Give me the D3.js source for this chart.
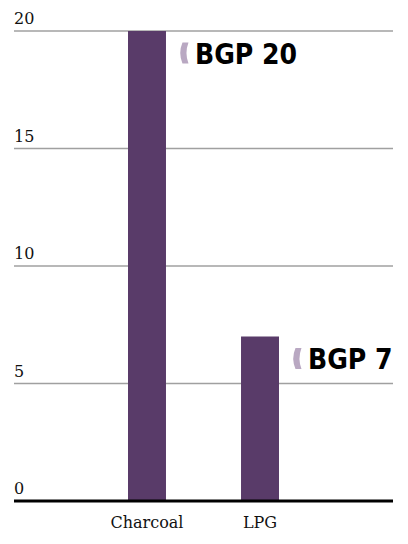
<!DOCTYPE html>
<html>
<head>
<meta charset="utf-8">
<script src="https://cdn.jsdelivr.net/npm/d3@7"></script>
<style>
  html, body { margin: 0; padding: 0; background: #fff; }
</style>
</head>
<body>
<div id="chart"></div>
<script>
// Fuel prices, BGP
const categories = ["Charcoal", "LPG"];
const values = [20, 7];
const priceLabels = ["BGP 20", "BGP 7"];
const yTicks = [0, 5, 10, 15, 20];

(function () {
  const width = 408;
  const height = 544;
  const left = 14, right = 393, top = 31, bottom = 501;

  const svg = d3.select("#chart")
    .append("svg")
    .attr("width", width)
    .attr("height", height);

  const y = d3.scaleLinear().domain([0, 20]).range([bottom, top]);
  const x = d3.scaleBand()
    .domain(categories)
    .range([71.5, 335.5])
    .paddingInner(0.664)
    .paddingOuter(0.5);

  // gridlines + tick labels
  const grid = svg.append("g");
  grid.selectAll("line")
    .data(yTicks.filter((d) => d > 0))
    .join("line")
    .attr("x1", left).attr("x2", right)
    .attr("y1", (d) => y(d)).attr("y2", (d) => y(d))
    .attr("stroke", "#a0a0a0")
    .attr("stroke-width", 1.5);

  grid.selectAll("text")
    .data(yTicks)
    .join("text")
    .attr("x", left)
    .attr("y", (d) => y(d) - 7)
    .attr("font-family", "'DejaVu Serif', serif")
    .attr("font-size", 16)
    .attr("fill", "#111")
    .text((d) => d);

  // bars
  svg.append("g")
    .selectAll("rect")
    .data(values)
    .join("rect")
    .attr("x", (d, i) => x(categories[i]))
    .attr("width", x.bandwidth())
    .attr("y", (d) => y(d))
    .attr("height", (d) => y(0) - y(d))
    .attr("fill", "#593b69");

  // baseline
  svg.append("line")
    .attr("x1", left).attr("x2", right)
    .attr("y1", y(0)).attr("y2", y(0))
    .attr("stroke", "#000")
    .attr("stroke-width", 3);

  // category labels
  svg.append("g")
    .selectAll("text")
    .data(categories)
    .join("text")
    .attr("x", (d) => x(d) + x.bandwidth() / 2)
    .attr("y", 528)
    .attr("text-anchor", "middle")
    .attr("font-family", "'DejaVu Serif', serif")
    .attr("font-size", 16)
    .attr("fill", "#111")
    .text((d) => d);

  // price callouts
  const callouts = svg.append("g")
    .selectAll("g")
    .data(values)
    .join("g")
    .attr("transform", (d, i) => `translate(${x(categories[i]) + x.bandwidth()},${y(d) + 32.5})`);

  callouts.append("path")
    .attr("d", "M16.5,-21 L22.5,-21 Q18.5,-10.5 22.5,0 L16.5,0 Q12,-10.5 16.5,-21 Z")
    .attr("fill", "#b9a8c2");

  callouts.append("text")
    .attr("x", 29)
    .attr("y", 0)
    .attr("font-family", "'DejaVu Sans Condensed', 'DejaVu Sans', sans-serif")
    .attr("font-stretch", "condensed")
    .attr("font-weight", "bold")
    .attr("font-size", 28)
    .attr("fill", "#000")
    .text((d, i) => priceLabels[i]);
})();
</script>
</body>
</html>
